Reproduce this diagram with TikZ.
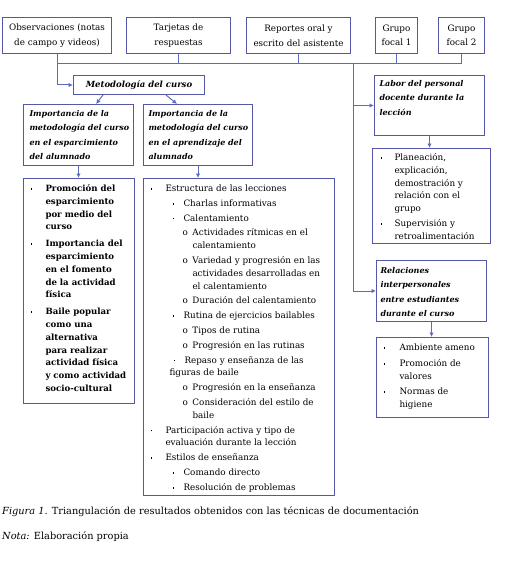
\documentclass[tikz,border=0pt]{standalone}
\usepackage{fontspec}
\setmainfont{DejaVu Serif}
\usetikzlibrary{arrows.meta,calc}
\definecolor{boxc}{RGB}{84,88,168}
\definecolor{linec}{RGB}{96,106,190}
\newcommand\sqb{\rule[0.2em]{1.8pt}{1.8pt}}
\newcommand\lB[3]{\makebox[#2pt][l]{\hspace*{#1pt}\sqb}#3}
\newcommand\lO[3]{\makebox[#2pt][l]{\hspace*{#1pt}o}#3}
\newcommand\lC[2]{\hspace*{#1pt}#2}
\newcommand\bxt[5]{\begin{minipage}[t][#2pt][t]{#1pt}\raggedright\leftskip=#4pt\relax\vspace*{#3pt}\strut#5\end{minipage}}
\begin{document}
\begin{tikzpicture}[x=1pt,y=-1pt,
  box/.style={draw=boxc, line width=1pt, inner sep=0pt, anchor=north west},
  cbox/.style={box, align=center, font=\fontsize{8.8}{14.5}\selectfont},
  conn/.style={draw=linec, line width=1pt},
  arr/.style={conn, -{Latex[length=4.5pt,width=4.5pt]}},
  hd/.style={font=\fontsize{8}{14.3}\selectfont\bfseries\itshape},
  ls/.style={font=\fontsize{8.8}{12.8}\selectfont},
  lsb/.style={font=\fontsize{8.6}{12.8}\selectfont\bfseries}]
\useasboundingbox (0,0) rectangle (504,567);
% top sources
\node[cbox, minimum width=109pt, minimum height=36pt] (obs) at (2,17) {Observaciones (notas\\de campo y videos)};
\node[cbox, minimum width=104pt, minimum height=36pt] (tar) at (126,17) {Tarjetas de\\respuestas};
\node[cbox, minimum width=104pt, minimum height=36pt] (rep) at (246,17) {Reportes oral y\\escrito del asistente};
\node[cbox, minimum width=42pt, minimum height=36pt] (fa) at (375,17) {Grupo\\focal 1};
\node[cbox, minimum width=46pt, minimum height=36pt] (fb) at (438,17) {Grupo\\focal 2};
% headings
\node[cbox, minimum width=131pt, minimum height=19pt, font=\fontsize{8.5}{14.5}\selectfont\bfseries\itshape] (met) at (73,75) {Metodología del curso};
\node[box, hd] (impa) at (23,104) {\bxt{110}{61}{2}{6}{Importancia de la\\metodología del curso\\en el esparcimiento\\del alumnado}};
\node[box, hd] (impb) at (143,104) {\bxt{109}{61}{2}{5}{Importancia de la\\metodología del curso\\en el aprendizaje del\\alumnado}};
\node[box, hd] (lab) at (374,75) {\bxt{110}{60}{1}{5}{Labor del personal\\docente durante la\\lección}};
\node[box, hd] (rel) at (376,260) {\bxt{110}{61}{3}{4}{Relaciones\\interpersonales\\entre estudiantes\\durante el curso}};
% lists
\node[box, lsb] (lista) at (23,178) {\bxt{111}{225}{4}{0}{%
\lB{7}{22}{Promoción del}\\
\lC{22}{esparcimiento}\\
\lC{22}{por medio del}\\
\lC{22}{curso}\\[4pt]
\lB{7}{22}{Importancia del}\\
\lC{22}{esparcimiento}\\
\lC{22}{en el fomento}\\
\lC{22}{de la actividad}\\
\lC{22}{física}\\[4pt]
\lB{7}{22}{Baile popular}\\
\lC{22}{como una}\\
\lC{22}{alternativa}\\
\lC{22}{para realizar}\\
\lC{22}{actividad física}\\
\lC{22}{y como actividad}\\
\lC{22}{socio-cultural}}};
\node[box, ls] (listb) at (143,178) {\bxt{191}{317}{4}{0}{%
\lB{7}{22}{Estructura de las lecciones}\\[2pt]
\lB{29}{40}{Charlas informativas}\\[2pt]
\lB{29}{40}{Calentamiento}\\[2pt]
\lO{39}{49}{Actividades rítmicas en el}\\
\lC{49}{calentamiento}\\[2pt]
\lO{39}{49}{Variedad y progresión en las}\\
\lC{49}{actividades desarrolladas en}\\
\lC{49}{el calentamiento}\\[2pt]
\lO{39}{49}{Duración del calentamiento}\\[2pt]
\lB{29}{40}{Rutina de ejercicios bailables}\\[2pt]
\lO{39}{49}{Tipos de rutina}\\[2pt]
\lO{39}{49}{Progresión en las rutinas}\\[2pt]
\lB{30}{41}{Repaso y enseñanza de las}\\
\lC{26}{figuras de baile}\\[2pt]
\lO{39}{49}{Progresión en la enseñanza}\\[2pt]
\lO{39}{49}{Consideración del estilo de}\\
\lC{49}{baile}\\[2pt]
\lB{7}{22}{Participación activa y tipo de}\\
\lC{22}{evaluación durante la lección}\\[2pt]
\lB{7}{22}{Estilos de enseñanza}\\[2pt]
\lB{29}{40}{Comando directo}\\[2pt]
\lB{29}{40}{Resolución de problemas}}};
\node[box, ls] (plan) at (372,148) {\bxt{118}{95}{3}{0}{%
\lB{8}{22}{Planeación,}\\
\lC{22}{explicación,}\\
\lC{22}{demostración y}\\
\lC{22}{relación con el}\\
\lC{22}{grupo}\\[2pt]
\lB{8}{22}{Supervisión y}\\
\lC{22}{retroalimentación}}};
\node[box, ls] (amb) at (376,337) {\bxt{112}{80}{4}{0}{%
\lB{7}{23}{Ambiente ameno}\\[3pt]
\lB{7}{23}{Promoción de}\\
\lC{23}{valores}\\[3pt]
\lB{7}{23}{Normas de}\\
\lC{23}{higiene}}};
% connectors
\coordinate (busy) at (0,64);
\coordinate (trunk) at (353,64);
\draw[conn] (obs.south |- busy) -- (fb.south |- busy);
\foreach \n in {obs,tar,rep,fa,fb} \draw[conn] (\n.south) -- (\n.south |- busy);
\draw[arr] (obs.south |- busy) |- (met.west);
\draw[arr] (trunk) |- (rel.west);
\draw[arr] (trunk |- lab.west) -- (lab.west);
\draw[arr] ($(met.south west)+(30,0)$) -- ($(impa.north west)+(73,0)$);
\draw[arr] ($(met.south west)+(93,0)$) -- ($(impb.north west)+(34,0)$);
\draw[arr] (impa.south) -- (impa.south |- lista.north);
\draw[arr] (impb.south) -- (impb.south |- listb.north);
\draw[arr] (lab.south) -- (lab.south |- plan.north);
\draw[arr] (rel.south) -- (rel.south |- amb.north);
% caption
\node[anchor=base west, inner sep=0pt, font=\fontsize{9.8}{11}\selectfont] (cap) at (2,514) {\textit{Figura 1.} Triangulación de resultados obtenidos con las técnicas de documentación};
\node[anchor=base west, inner sep=0pt, font=\fontsize{9.8}{11}\selectfont] (nota) at (2,539) {\textit{Nota:} Elaboración propia};
\end{tikzpicture}
\end{document}
